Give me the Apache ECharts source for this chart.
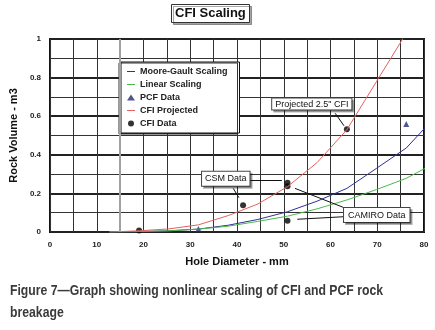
<!DOCTYPE html>
<html>
<head>
<meta charset="utf-8">
<script src="https://cdn.jsdelivr.net/npm/echarts@6/dist/echarts.min.js"></script>
<style>
  html, body { margin: 0; padding: 0; background: #fff; }
  #cfi-scaling { width: 435px; height: 330px; }
</style>
</head>
<body>
<div id="cfi-scaling"></div>
<script>
    // hole diameters in mm (quarter-inch steps)
    var diam = [12.7, 19.05, 25.4, 31.75, 38.1, 44.45, 50.8, 57.15, 63.5, 69.85, 76.2, 82.55];
    var mooreGault = [0, 0.002, 0.006, 0.015, 0.035, 0.065, 0.105, 0.16, 0.226, 0.33, 0.435, 0.6];
    var linearScaling = [0, 0.002, 0.006, 0.015, 0.03, 0.055, 0.082, 0.12, 0.166, 0.22, 0.278, 0.36];
    var cfiProjected = [0, 0.006, 0.016, 0.037, 0.085, 0.145, 0.235, 0.36, 0.53, 0.78, 1.03];
    var pcfX = [31.75, 76.2];
    var pcfY = [0.015, 0.56];
    var cfiX = [19.05, 41.3, 50.8, 50.8, 50.8, 63.5];
    var cfiY = [0.008, 0.138, 0.255, 0.237, 0.058, 0.532];
    var xTicks = [0, 10, 20, 30, 40, 50, 60, 70, 80];
    var yTicks = [0, 0.2, 0.4, 0.6, 0.8, 1];

    var caption = 'Figure 7\u2014Graph showing nonlinear scaling of CFI and PCF rock\nbreakage';

    function zip(xs, ys) {
        var out = [];
        for (var i = 0; i < ys.length; i++) out.push([xs[i], ys[i]]);
        return out;
    }

    // squeeze the caption to the narrow width of the original print
    var ctx = document.createElement('canvas').getContext('2d');
    ctx.font = 'bold 15px "Liberation Sans", Arial, sans-serif';
    var capScale = 373 / ctx.measureText(caption.split('\n')[0]).width;

    var chart = echarts.init(document.getElementById('cfi-scaling'));
    var lbl = { fontSize: 8, fontWeight: 'bold', color: '#222', fontFamily: 'Liberation Sans, Arial' };
    var lineIcon = 'path://M0,0H8V1H0Z';
    var boxLabel = {
        show: true,
        position: 'inside',
        formatter: '{b}',
        fontSize: 9,
        fontFamily: 'Liberation Sans, Arial',
        color: '#111',
        backgroundColor: '#fff',
        borderColor: '#444',
        borderWidth: 1,
        padding: [3, 3, 2, 3],
        shadowColor: 'rgba(0,0,0,0.3)',
        shadowOffsetX: 2,
        shadowOffsetY: 2
    };

    const option = {
        animation: false,
        backgroundColor: '#fff',
        title: {
            text: 'CFI Scaling',
            left: 171,
            top: 4,
            padding: [3, 4, 3, 4],
            borderColor: '#333',
            borderWidth: 1,
            backgroundColor: '#fff',
            shadowColor: 'rgba(0,0,0,0.35)',
            shadowOffsetX: 2,
            shadowOffsetY: 2,
            textStyle: { fontSize: 13, fontWeight: 'bold', color: '#111', fontFamily: 'Liberation Sans, Arial' }
        },
        legend: {
            orient: 'vertical',
            left: 121,
            top: 62,
            itemWidth: 8,
            itemHeight: 6,
            itemGap: 4,
            padding: [5, 12, 5, 6],
            backgroundColor: '#fff',
            borderColor: '#111',
            borderWidth: 1,
            shadowColor: '#333',
            shadowOffsetX: -2,
            shadowOffsetY: 1,
            textStyle: { fontSize: 9, fontWeight: 'bold', color: '#222', fontFamily: 'Liberation Sans, Arial' },
            data: [
                { name: 'Moore-Gault Scaling', icon: lineIcon },
                { name: 'Linear Scaling', icon: lineIcon },
                { name: 'PCF Data', icon: 'triangle' },
                { name: 'CFI Projected', icon: lineIcon },
                { name: 'CFI Data', icon: 'circle' }
            ]
        },
        grid: {
            show: true,
            left: 50,
            right: 11,
            top: 39,
            bottom: 98,
            borderColor: '#111',
            borderWidth: 2,
            backgroundColor: '#fff'
        },
        xAxis: {
            type: 'value',
            min: xTicks[0],
            max: xTicks[xTicks.length - 1],
            interval: 10,
            name: 'Hole Diameter - mm',
            nameLocation: 'middle',
            nameGap: 24,
            nameTextStyle: { fontSize: 11, fontWeight: 'bold', color: '#111', fontFamily: 'Liberation Sans, Arial' },
            axisLine: { show: false },
            axisTick: { show: false },
            axisLabel: Object.assign({ margin: 9 }, lbl),
            splitLine: { lineStyle: { color: '#333', width: 1 } },
            minorTick: { show: false, splitNumber: 2 },
            minorSplitLine: { show: true, lineStyle: { color: '#333', width: 1 } }
        },
        yAxis: {
            type: 'value',
            min: yTicks[0],
            max: yTicks[yTicks.length - 1],
            interval: 0.2,
            name: 'Rock Volume - m3',
            nameLocation: 'middle',
            nameGap: 29,
            nameTextStyle: { fontSize: 11, fontWeight: 'bold', color: '#111', fontFamily: 'Liberation Sans, Arial' },
            axisLine: { show: false },
            axisTick: { show: false },
            axisLabel: Object.assign({ margin: 9 }, lbl),
            splitLine: { lineStyle: { color: '#222', width: 2 } },
            minorTick: { show: false, splitNumber: 2 },
            minorSplitLine: { show: true, lineStyle: { color: '#333', width: 1 } }
        },
        series: [
            {
                name: 'Moore-Gault Scaling',
                type: 'line',
                symbol: 'none',
                color: '#2e3192',
                lineStyle: { width: 1 },
                data: zip(diam, mooreGault),
                markLine: {
                    silent: true,
                    symbol: 'none',
                    label: { show: false },
                    lineStyle: { color: '#a0a0a0', width: 2, type: 'solid' },
                    data: [{ xAxis: 15 }]
                }
            },
            {
                name: 'Linear Scaling',
                type: 'line',
                symbol: 'none',
                color: '#4cb84c',
                lineStyle: { width: 1 },
                data: zip(diam, linearScaling)
            },
            {
                name: 'CFI Projected',
                type: 'line',
                symbol: 'none',
                color: '#e3625f',
                lineStyle: { width: 1 },
                data: zip(diam, cfiProjected)
            },
            {
                name: 'PCF Data',
                type: 'scatter',
                symbol: 'triangle',
                symbolSize: 6,
                color: '#262a6e',
                data: zip(pcfX, pcfY)
            },
            {
                name: 'CFI Data',
                type: 'scatter',
                symbol: 'circle',
                symbolSize: 6,
                color: '#000',
                data: zip(cfiX, cfiY),
                markLine: {
                    silent: true,
                    symbol: ['none', 'arrow'],
                    symbolSize: [0, 9],
                    label: { show: false },
                    lineStyle: { color: '#111', width: 1, type: 'solid' },
                    data: [
                        [{ coord: [61.0, 0.615] }, { coord: [62.9, 0.55] }],
                        [{ coord: [42.8, 0.266] }, { coord: [49.6, 0.266] }],
                        [{ coord: [39.2, 0.226] }, { coord: [40.4, 0.178] }],
                        [{ coord: [62.7, 0.128] }, { coord: [52.4, 0.226] }],
                        [{ coord: [62.7, 0.079] }, { coord: [52.9, 0.066] }]
                    ]
                },
                markPoint: {
                    silent: true,
                    symbol: 'rect',
                    symbolSize: 1,
                    itemStyle: { color: 'rgba(0,0,0,0)' },
                    label: boxLabel,
                    data: [
                        { name: 'Projected 2.5" CFI', coord: [56.0, 0.663], label: { padding: [1, 3, 1, 3] } },
                        { name: 'CSM Data', coord: [37.6, 0.276] },
                        { name: 'CAMIRO Data', coord: [69.9, 0.088], label: { padding: [3, 4, 2, 4] } }
                    ]
                }
            }
        ],
        graphic: [
            {
                type: 'text',
                left: 10,
                top: 280,
                scaleX: capScale,
                style: {
                    text: caption,
                    font: 'bold 15px "Liberation Sans", Arial, sans-serif',
                    fill: '#3a3a3a',
                    lineHeight: 22
                }
            }
        ]
    };

    chart.setOption(option);
</script>
</body>
</html>
